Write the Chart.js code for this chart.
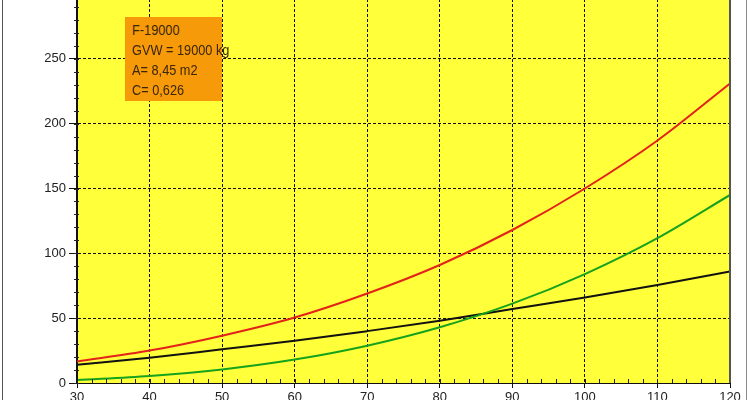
<!DOCTYPE html>
<html>
<head>
<meta charset="utf-8">
<script src="https://cdn.jsdelivr.net/npm/chart.js@4.4.0/dist/chart.umd.min.js"></script>
<style>
  body { margin: 0; background: #fff; width: 750px; height: 400px; overflow: hidden; position: relative; }
  #wrap { position: absolute; left: 0; top: -20px; width: 750px; height: 440px; }
  #info {
    position: absolute; left: 125px; top: 17px; width: 97px; height: 84px;
    background: #F79A0A; box-sizing: border-box; padding: 3px 0 0 7px;
  }
  #info span {
    display: block; white-space: nowrap; color: #3a2608;
    font: 15px/20px "Liberation Sans", sans-serif;
    transform: scaleX(0.85); transform-origin: left top;
  }
  .edge { position: absolute; top: 0; width: 1px; height: 400px; background: #8a8a8a; }
</style>
</head>
<body>
<div id="wrap"><canvas id="chart"></canvas></div>
<div id="info"><span>F-19000</span><span>GVW = 19000 kg</span><span>A= 8,45 m2</span><span>C= 0,626</span></div>
<div class="edge" style="left:2px;background:#555"></div>
<div class="edge" style="left:746px"></div>
<script>
// speed values (x) and power curves
const speeds     = [30, 40, 50, 60, 70, 80, 90, 100, 110, 120];
const totalPower = [16.5, 25, 36.5, 50.5, 69, 91, 118, 150, 187, 231];
const aeroPower  = [2.3, 5.4, 10.5, 18.1, 28.8, 43, 61.2, 84, 111.7, 145];
const rollPower  = [14, 19.5, 26, 32.5, 40, 48, 57, 66, 75.5, 86];

const toPoints = arr => arr.map((v, i) => ({ x: speeds[i], y: v }));

// yellow plot background + minor tick marks
const plotDeco = {
  id: 'plotDeco',
  beforeDraw(chart) {
    const { ctx, chartArea: a } = chart;
    ctx.save();
    ctx.fillStyle = '#FFFF3A';
    ctx.fillRect(a.left, a.top, a.right - a.left, a.bottom - a.top);
    ctx.restore();
  },
  afterDatasetsDraw(chart) {
    const { ctx, chartArea: a, scales } = chart;
    ctx.save();
    ctx.strokeStyle = '#222';
    ctx.lineWidth = 1;
    ctx.beginPath();
    for (let v = 30; v <= 120; v += 2) {
      const px = Math.round(scales.x.getPixelForValue(v)) + 0.5;
      ctx.moveTo(px, a.bottom);
      ctx.lineTo(px, a.bottom - 4);
    }
    for (let v = 0; v <= 300; v += 10) {
      const py = Math.round(scales.y.getPixelForValue(v)) + 0.5;
      ctx.moveTo(a.left - 3, py);
      ctx.lineTo(a.left + 2, py);
    }
    ctx.stroke();
    // right frame
    ctx.strokeStyle = '#555';
    ctx.lineWidth = 2;
    ctx.beginPath();
    ctx.moveTo(a.right, a.top);
    ctx.lineTo(a.right, a.bottom);
    ctx.stroke();
    ctx.restore();
  }
};

new Chart(document.getElementById('chart'), {
  type: 'line',
  data: {
    datasets: [
      { data: toPoints(totalPower), borderColor: '#E3221A' },
      { data: toPoints(aeroPower), borderColor: '#16A21C' },
      { data: toPoints(rollPower), borderColor: '#111111' }
    ]
  },
  options: {
    responsive: true,
    maintainAspectRatio: false,
    animation: false,
    layout: { padding: { top: 14, right: 20, left: 0, bottom: 0 } },
    elements: {
      line: { borderWidth: 2, cubicInterpolationMode: 'monotone' },
      point: { radius: 0 }
    },
    plugins: { legend: { display: false }, tooltip: { enabled: false } },
    scales: {
      x: {
        type: 'linear',
        min: 30, max: 120,
        afterFit: s => { s.height = 37; },
        ticks: { stepSize: 10, color: '#222', padding: 2, font: { family: 'Liberation Sans', size: 13 } },
        grid: { color: '#111', lineWidth: 1, tickLength: 5, tickColor: '#111' },
        border: { color: '#111', width: 1, dash: [3, 2] }
      },
      y: {
        min: 0, max: 300,
        afterFit: s => { s.width = 77; },
        ticks: { stepSize: 50, color: '#222', padding: 3, font: { family: 'Liberation Sans', size: 13 } },
        grid: { color: '#111', lineWidth: 1, tickLength: 8, tickColor: '#111' },
        border: { color: '#111', width: 2, dash: [3, 2] }
      }
    }
  },
  plugins: [plotDeco]
});
</script>
</body>
</html>
